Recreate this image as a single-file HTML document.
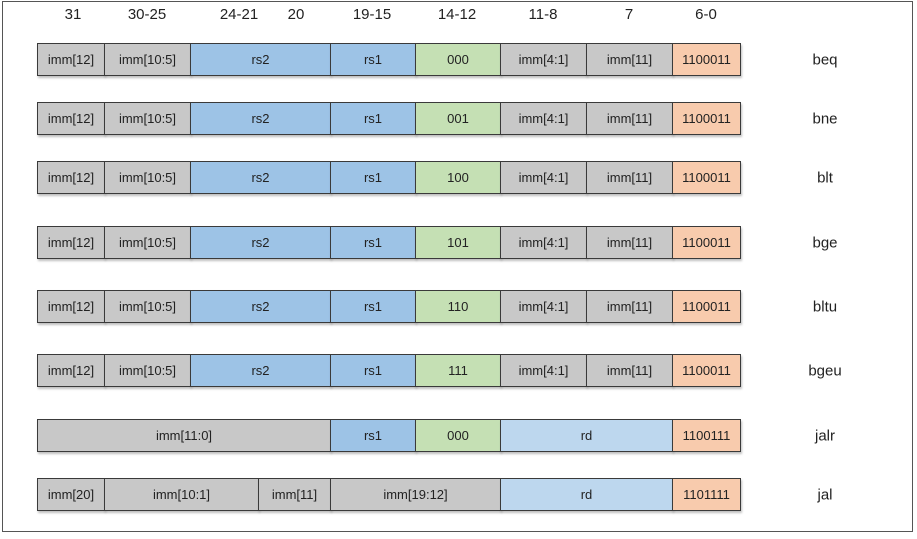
<!DOCTYPE html>
<html><head><meta charset="utf-8"><style>
body{margin:0;width:917px;height:539px;background:#fff;position:relative;overflow:hidden;font-family:"Liberation Sans",sans-serif}
.frame{position:absolute;left:2px;top:1px;width:909px;height:529px;border:1px solid #555}
.c{position:absolute;box-sizing:border-box;border:1px solid #3a3a3a;display:flex;align-items:center;justify-content:center;font-size:13px;color:#222;box-shadow:1px 2px 2px rgba(0,0,0,.25)}
.g{background:#c8c8c8}.b{background:#9dc3e6}.gr{background:#c5e0b4}.lb{background:#bdd7ee}.o{background:#f8cbad}
.h{position:absolute;top:6px;font-size:15px;color:#222;transform:translateX(-50%)}
.l{position:absolute;font-size:15px;color:#222;transform:translate(-50%,-50%)}
</style></head><body>
<div class="frame"></div>
<div class="h" style="left:73px">31</div>
<div class="h" style="left:147px">30-25</div>
<div class="h" style="left:239px">24-21</div>
<div class="h" style="left:296px">20</div>
<div class="h" style="left:372px">19-15</div>
<div class="h" style="left:457px">14-12</div>
<div class="h" style="left:543px">11-8</div>
<div class="h" style="left:629px">7</div>
<div class="h" style="left:706px">6-0</div>
<div id="rows"></div>
<script>
var rows=[[43,"000","beq"],[102,"001","bne"],[161,"100","blt"],[226,"101","bge"],[290,"110","bltu"],[354,"111","bgeu"]];
var out="";
function cell(x1,x2,y,cls,t){out+='<div class="c '+cls+'" style="left:'+x1+'px;top:'+y+'px;width:'+(x2-x1+1)+'px;height:33px">'+t+'</div>';}
rows.forEach(function(r){var y=r[0];
cell(37,104,y,"g","imm[12]");cell(104,190,y,"g","imm[10:5]");cell(190,330,y,"b","rs2");cell(330,415,y,"b","rs1");
cell(415,500,y,"gr",r[1]);cell(500,586,y,"g","imm[4:1]");cell(586,672,y,"g","imm[11]");cell(672,740,y,"o","1100011");
out+='<div class="l" style="left:825px;top:'+(y+17)+'px">'+r[2]+'</div>';});
var y=419;
cell(37,330,y,"g","imm[11:0]");cell(330,415,y,"b","rs1");cell(415,500,y,"gr","000");cell(500,672,y,"lb","rd");cell(672,740,y,"o","1100111");
out+='<div class="l" style="left:825px;top:'+(y+17)+'px">jalr</div>';
y=478;
cell(37,104,y,"g","imm[20]");cell(104,258,y,"g","imm[10:1]");cell(258,330,y,"g","imm[11]");cell(330,500,y,"g","imm[19:12]");cell(500,672,y,"lb","rd");cell(672,740,y,"o","1101111");
out+='<div class="l" style="left:825px;top:'+(y+17)+'px">jal</div>';
document.getElementById("rows").innerHTML=out;
</script>
</body></html>
